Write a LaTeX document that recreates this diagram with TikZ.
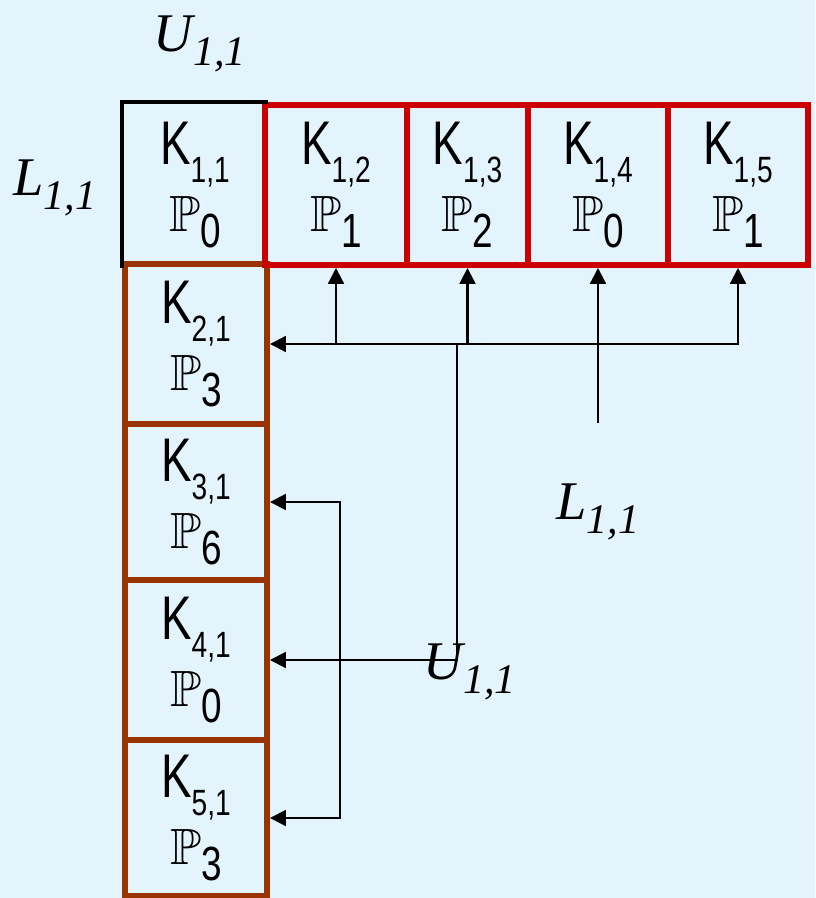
\documentclass[tikz,border=0pt]{standalone}
\usepackage{amssymb}
\usepackage{fontspec}
\setmainfont{Liberation Sans}
\newfontfamily\labelfont{Liberation Serif}
\usetikzlibrary{arrows.meta}
\definecolor{bgblue}{HTML}{E3F4FD}
\definecolor{rowred}{HTML}{CC0000}
\definecolor{colbrown}{HTML}{993300}

\newcommand{\kname}[1]{\scalebox{1}[1.35]{\fontsize{26}{26}\selectfont K}\raisebox{-10pt}{\scalebox{1}[1.3]{\fontsize{16}{16}\selectfont #1}}}
\newcommand{\pname}[1]{{\fontsize{29}{29}\selectfont$\mathbb{P}$}\raisebox{-9pt}{\scalebox{1}[1.3]{\fontsize{21}{21}\selectfont #1}}}
\newcommand{\idxlbl}[1]{{\labelfont\itshape\fontsize{31}{31}\selectfont #1\raisebox{-8pt}{\fontsize{24}{24}\selectfont 1,1}}}

\begin{document}
\begin{tikzpicture}[
    x=0.02cm, y=-0.02cm,
    cell/.style = {rectangle, line width=3.4pt, minimum height=3.2cm,
                   inner sep=0pt, align=center, font=\fontsize{12}{38}\selectfont},
    rowcell/.style = {cell, draw=rowred},
    colcell/.style = {cell, draw=colbrown, minimum width=2.84cm},
    arrow/.style = {-{Triangle[length=9pt, width=9pt]}, line width=1.2pt},
    dblarrow/.style = {{Triangle[length=9pt, width=9pt]}-{Triangle[length=9pt, width=9pt]}, line width=1.2pt}
  ]
    \useasboundingbox (0,0) rectangle (815,898);
    \fill[bgblue] (0,0) rectangle (815,898);

    % Column
    \node[colcell] (k21) at (196,344) {\kname{2,1}\\ \pname{3}};
    \node[colcell, minimum height=3.12cm] (k31) at (196,502) {\kname{3,1}\\ \pname{6}};
    \node[colcell] (k41) at (196,660) {\kname{4,1}\\ \pname{0}};
    \node[colcell, minimum height=3.12cm] (k51) at (196,818) {\kname{5,1}\\ \pname{3}};

    % Row
    \node[cell, minimum width=2.8cm] (k11) at (195,185) {\kname{1,1}\\ \pname{0}};
    \node[rowcell, minimum width=2.84cm] (k12) at (336,185) {\kname{1,2}\\ \pname{1}};
    \node[rowcell, minimum width=2.42cm] (k13) at (467.5,185) {\kname{1,3}\\ \pname{2}};
    \node[rowcell, minimum width=2.8cm] (k14) at (598,185) {\kname{1,4}\\ \pname{0}};
    \node[rowcell, minimum width=2.8cm] (k15) at (738,185) {\kname{1,5}\\ \pname{1}};
    \draw[line width=2.3pt] (k11.south west) |- (k11.north east);

    % Labels
    \node (utop) at (200,44) {\idxlbl{U}};
    \node (lleft) at (55,188) {\idxlbl{L}};
    \node (lmid) at (598,512) {\idxlbl{L}};
    \node (ulow) at (470,672) {\idxlbl{U}};
    \coordinate (lfoot) at (598,423);
    \coordinate (ujoin) at (457,343);

    % Arrows
    \draw[dblarrow] (k15.south) |- (k21.east);
    \draw[arrow] (k12.south |- k21.east) -- (k12.south);
    \draw[arrow] (k13.south |- k21.east) -- (k13.south);
    \draw[arrow] (lfoot) -- (k14.south);
    \draw[arrow] (ujoin) |- (k41.east);
    \draw[dblarrow] (k31.east) -- ++(70,0) |- (k51.east);

  \end{tikzpicture}
\end{document}
